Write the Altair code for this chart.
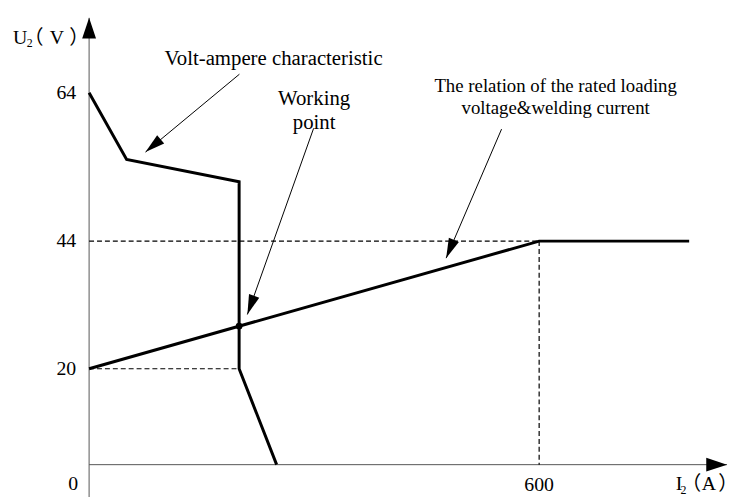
import altair as alt
import pandas as pd

# ---------------- data ----------------
# volt-ampere characteristic of the welding source
va_I = [0, 50, 200, 200, 250]
va_U = [64, 55, 52, 20, 0]
# rated loading voltage vs welding current
load_I = [0, 600, 800]
load_U = [20, 44, 44]
# working point
work_I = [200]
work_U = [28]
# dashed guide segments (from -> to)
guide_I = [0, 600, 0]
guide_U = [44, 44, 20]
guide_I2 = [600, 600, 200]
guide_U2 = [44, 0, 20]
# tick labels
y_ticks = [64, 44, 20]
x_ticks = [600]
# axis extents (arrow tips)
y_axis_lo, y_axis_hi = -7, 74.1
x_axis_hi = 850.5

# annotations
ann_text = ["Volt-ampere characteristic", "Working", "point"]
ann_I = [245.9, 300, 300]
ann_U = [67.7, 62.3, 59.1]
rel_text = ["The relation of the rated loading", "voltage&welding current"]
rel_I = [622, 622]
rel_U = [64.13, 61.2]
# leader arrows (start -> tip) and arrowhead direction
lead_I = [200.4, 299.3, 549.9]
lead_U = [66.5, 59.2, 59.1]
lead_I2 = [75.2, 211.0, 476.0]
lead_U2 = [56.0, 30.2, 40.8]
lead_angle = [230, 200, 203]

# axis titles pieces: U₂（V） and I₂（A）
title_text = ["U", "I"]
title_I = [-101.5, 782.0]
title_U = [70.53, -5.36]
sub_text = ["2", "2"]
sub_I = [-83.1, 788.6]
sub_U = [70.13, -6.19]
unit_text = ["V", "A"]
unit_I = [-42.9, 826.2]
unit_U = [70.53, -5.36]
lpar_text = ["（", "（"]
lpar_I = [-60.7, 816.3]
rpar_text = ["）", "）"]
rpar_I = [-26.4, 838.7]
par_U = [70.53, -5.36]

# ---------------- tables ----------------
va_df = pd.DataFrame({"I": va_I, "U": va_U, "k": list(range(len(va_I)))})
load_df = pd.DataFrame({"I": load_I, "U": load_U, "k": list(range(len(load_I)))})
work_df = pd.DataFrame({"I": work_I, "U": work_U})
guide_df = pd.DataFrame({"I": guide_I, "U": guide_U, "I2": guide_I2, "U2": guide_U2})
ytick_df = pd.DataFrame({"I": [0] * len(y_ticks), "U": y_ticks, "t": [str(v) for v in y_ticks]})
xtick_df = pd.DataFrame({"I": x_ticks, "U": [0] * len(x_ticks), "t": [str(v) for v in x_ticks]})
origin_df = pd.DataFrame({"I": [0], "U": [0], "t": ["0"]})
axis_df = pd.DataFrame({"I": [0, 0], "U": [y_axis_lo, 0], "I2": [0, x_axis_hi], "U2": [y_axis_hi, 0]})
axhead_df = pd.DataFrame({"I": [0, x_axis_hi], "U": [y_axis_hi, 0], "a": [0, 90]})
ann_df = pd.DataFrame({"I": ann_I, "U": ann_U, "t": ann_text})
rel_df = pd.DataFrame({"I": rel_I, "U": rel_U, "t": rel_text})
lead_df = pd.DataFrame({"I": lead_I, "U": lead_U, "I2": lead_I2, "U2": lead_U2, "a": lead_angle})
title_df = pd.DataFrame({"I": title_I, "U": title_U, "t": title_text})
sub_df = pd.DataFrame({"I": sub_I, "U": sub_U, "t": sub_text})
unit_df = pd.DataFrame({"I": unit_I, "U": unit_U, "t": unit_text})
lpar_df = pd.DataFrame({"I": lpar_I, "U": par_U, "t": lpar_text})
rpar_df = pd.DataFrame({"I": rpar_I, "U": par_U, "t": rpar_text})

xs = alt.Scale(domain=[0, 600], range=[82, 537], nice=False, zero=False)
ys = alt.Scale(domain=[0, 20, 44, 64], range=[459, 362, 233, 83], nice=False, zero=False)
X = alt.X("I:Q", scale=xs, axis=None)
Y = alt.Y("U:Q", scale=ys, axis=None)

SERIF = "Liberation Serif"
CJK = "Noto Sans CJK SC"
HEAD_AXIS = "M0,0L0.667,2L-0.667,2Z"
HEAD_LEAD = "M0,0L0.55,2L-0.55,2Z"


def txt(df, size, align="center", font=SERIF, **kw):
    return alt.Chart(df).mark_text(
        font=font, fontSize=size, align=align, baseline="alphabetic",
        color="black", **kw).encode(x=X, y=Y, text="t:N")


axes = alt.Chart(axis_df).mark_rule(color="#555555", strokeWidth=1).encode(
    x=X, y=Y, x2="I2:Q", y2="U2:Q")
axheads = alt.Chart(axhead_df).mark_point(
    shape=HEAD_AXIS, filled=True, color="black", size=441, opacity=1).encode(
    x=X, y=Y, angle=alt.Angle("a:Q", scale=None))

guides = alt.Chart(guide_df).mark_rule(
    color="black", strokeWidth=1.2, strokeDash=[5, 3]).encode(
    x=X, y=Y, x2="I2:Q", y2="U2:Q")

va_line = alt.Chart(va_df).mark_line(color="black", strokeWidth=3).encode(
    x=X, y=Y, order="k:Q")
load_line = alt.Chart(load_df).mark_line(color="black", strokeWidth=3).encode(
    x=X, y=Y, order="k:Q")
work_pt = alt.Chart(work_df).mark_point(
    filled=True, color="black", size=45, opacity=1).encode(x=X, y=Y)

leads = alt.Chart(lead_df).mark_rule(color="black", strokeWidth=1).encode(
    x=X, y=Y, x2="I2:Q", y2="U2:Q")
lead_heads = alt.Chart(lead_df).mark_point(
    shape=HEAD_LEAD, filled=True, color="black", size=400, opacity=1).encode(
    x=alt.X("I2:Q", scale=xs, axis=None), y=alt.Y("U2:Q", scale=ys, axis=None),
    angle=alt.Angle("a:Q", scale=None))

yticks = txt(ytick_df, 20, align="right", dx=-13, dy=6)
xticks = txt(xtick_df, 20, dy=27)
origin = txt(origin_df, 20, dx=-16, dy=26)
ann = txt(ann_df, 21)
rel = txt(rel_df, 19)
titles = txt(title_df, 20, align="left")
subs = txt(sub_df, 12, align="left")
units = txt(unit_df, 20)
lpars = txt(lpar_df, 20, align="right", font=CJK)
rpars = txt(rpar_df, 20, align="left", font=CJK)

chart = alt.layer(
    axes, axheads, guides, va_line, load_line, work_pt, leads, lead_heads,
    yticks, xticks, origin, ann, rel, titles, subs, units, lpars, rpars
).properties(
    width=734, height=489,
    autosize=alt.AutoSizeParams(type="none"),
    padding=0,
    background="white",
).configure_view(strokeWidth=0)

chart.save("out.html", embed_options={"renderer": "svg", "actions": False})
